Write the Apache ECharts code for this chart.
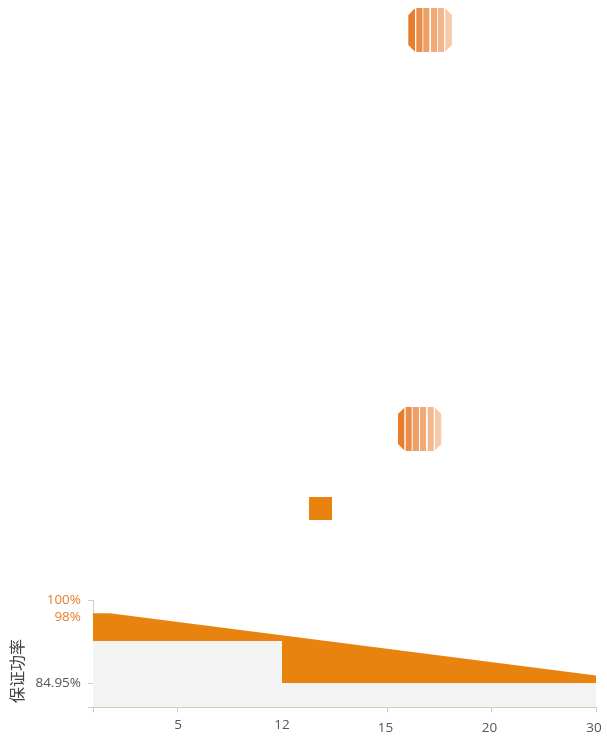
<!DOCTYPE html>
<html><head><meta charset="utf-8">
<style>html,body{margin:0;padding:0;background:#fff}#c{width:607px;height:741px}</style>
<script src="https://cdn.jsdelivr.net/npm/echarts@6/dist/echarts.min.js"></script>
</head><body><div id="c"></div>
<script>
const xYears = [0, 5, 12, 15, 20, 30];
const xSlots = [0, 0.84, 1.89, 2.94, 3.98, 5.03];
const xTickYears = [0, 5, 15, 20, 30];
const topYears = [0, 1, 30];
const topValues = [97.67, 97.67, 86.3];
const floorYears = [0, 12, 30];
const floorValues = [92.6, 84.95, 84.95];
const yLabelValues = [100, 97, 84.95];
const yLabelTexts = ['100%', '98%', '84.95%'];
const yTickValues = [100, 84.95, 80.47];
const stripeColors = ['#e87d2b', '#eb8d4b', '#ee9f63', '#f0aa77', '#f2b78d', '#f5c9a9'];
const stripesA = [[408.3,415],[416.3,422.5],[423.3,429.3],[431,437],[437.8,444],[445.3,451.8]];
const stripesB = [[398,404.3],[405.7,411.7],[412.7,419],[420,426],[427.7,433.7],[435,441.3]];

function slotOf(y){
  for(let i=1;i<xYears.length;i++){
    if(y<=xYears[i]){
      const t=(y-xYears[i-1])/(xYears[i]-xYears[i-1]);
      return xSlots[i-1]+t*(xSlots[i]-xSlots[i-1]);
    }
  }
  return xSlots[xSlots.length-1];
}
const font='"Open Sans","Noto Sans",sans-serif';
const cjk='"Noto Sans CJK SC",sans-serif';
function icon(stripes,top,bottom){
  const L=stripes[0][0],R=stripes[5][1],ch=7;
  const yAt=x=>{const d=Math.min(x-L,R-x);return Math.max(0,ch-d);};
  return stripes.map((s,i)=>({
    type:'polygon',silent:true,
    shape:{points:[[s[0],top+yAt(s[0])],[s[1],top+yAt(s[1])],[s[1],bottom-yAt(s[1])],[s[0],bottom-yAt(s[0])]]},
    style:{fill:stripeColors[i]}
  }));
}
const labelMap={5:'{a|5}',12:'{b|12}',15:'{c|15}',20:'{c|20}',30:'{d|30}'};
const base={fontFamily:font,fontSize:13.5,color:'#555'};
const chart=echarts.init(document.getElementById('c'),null,{renderer:'canvas'});
chart.setOption({
  animation:false,
  grid:{left:93,top:600.5,width:503,height:107,containLabel:false},
  xAxis:{type:'value',min:0,max:xSlots[5],
    splitLine:{show:false},
    axisLine:{show:true,onZero:false,lineStyle:{color:'#ccc',width:1}},
    axisTick:{show:true,length:5,lineStyle:{color:'#ccc'},customValues:xTickYears.map(slotOf)},
    axisLabel:{show:true,hideOverlap:false,showMinLabel:true,showMaxLabel:true,alignMinLabel:'center',alignMaxLabel:'center',
      customValues:xYears.slice(1).map(slotOf),color:'#555',fontFamily:font,fontSize:13.5,margin:11,
      formatter:v=>{const i=xSlots.findIndex(s=>Math.abs(s-v)<1e-6);return labelMap[xYears[i]];},
      rich:{a:{...base,padding:[0,0,0,2]},
            b:{...base,padding:[0,0,0,0]},
            c:{...base,padding:[3,3,0,0]},
            d:{...base,padding:[3,4,0,0]}}}
  },
  yAxis:{type:'value',min:80.47,max:100,
    name:'保证功率',nameLocation:'middle',nameGap:69,nameRotate:90,
    nameTextStyle:{color:'#444',fontFamily:cjk,fontSize:16,padding:[0,34,-42,0]},
    splitLine:{show:false},
    axisLine:{show:true,lineStyle:{color:'#ccc',width:1}},
    axisTick:{show:true,length:5,lineStyle:{color:'#ccc'},customValues:yTickValues},
    axisLabel:{show:true,customValues:yLabelValues,fontFamily:font,fontSize:13.5,margin:12,
      showMinLabel:true,showMaxLabel:true,
      color:v=>Math.abs(Number(v)-84.95)<0.01?'#555':'#e8802c',
      formatter:v=>yLabelTexts[yLabelValues.indexOf(v)]}
  },
  series:[
    {type:'line',name:'upper',symbol:'none',silent:true,
     data:topYears.map((y,i)=>[slotOf(y),topValues[i]]),
     lineStyle:{width:0},areaStyle:{color:'#e88310',opacity:1}},
    {type:'line',name:'lower',symbol:'none',silent:true,step:'end',
     data:floorYears.map((y,i)=>[slotOf(y),floorValues[i]]),
     lineStyle:{width:0},areaStyle:{color:'#f3f3f3',opacity:1}}
  ],
  graphic:[
    ...icon(stripesA,8,52),
    ...icon(stripesB,407,451),
    {type:'rect',silent:true,shape:{x:309,y:497,width:23,height:23},style:{fill:'#e88310'}}
  ]
});
</script></body></html>
